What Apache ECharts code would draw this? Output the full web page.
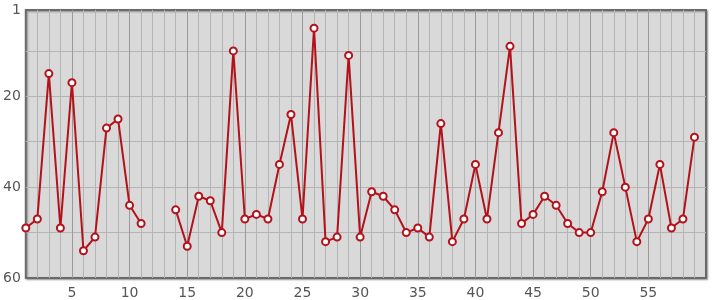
<!DOCTYPE html>
<html><head><meta charset="utf-8">
<script src="https://cdn.jsdelivr.net/npm/echarts@6/dist/echarts.min.js"></script>
<style>html,body{margin:0;padding:0;background:#fff}#c{width:715px;height:300px}</style>
</head><body><div id="c"></div>
<script>
const xValues = [1,2,3,4,5,6,7,8,9,10,11,12,13,14,15,16,17,18,19,20,21,22,23,24,25,26,27,28,29,30,31,32,33,34,35,36,37,38,39,40,41,42,43,44,45,46,47,48,49,50,51,52,53,54,55,56,57,58,59];
const yValues = [49,47,15,49,17,54,51,27,25,44,48,null,null,45,53,42,43,50,10,47,46,47,35,24,47,5,52,51,11,51,41,42,45,50,49,51,26,52,47,35,47,28,9,48,46,42,44,48,50,50,41,28,40,52,47,35,49,47,29];
const xTickLabels = [5,10,15,20,25,30,35,40,45,50,55];
const yTickLabels = [1,20,40,60];
const yGridValues = [10,20,30,40,50];
const xMinorGrid = [2,3,4,6,7,8,9,11,12,13,14,16,17,18,19,21,22,23,24,26,27,28,29,31,32,33,34,36,37,38,39,41,42,43,44,46,47,48,49,51,52,53,54,56,57,58,59];

const chart = echarts.init(document.getElementById('c'));
const lbl = {color:'#555', fontSize:14, fontFamily:'DejaVu Sans'};
chart.setOption({
  animation:false,
  grid:{left:25,right:9,top:10,bottom:20,show:true,backgroundColor:'#d9d9d9',borderColor:'#6a6a6a',borderWidth:2,
        shadowColor:'rgba(0,0,0,0.35)',shadowBlur:2,shadowOffsetX:1,shadowOffsetY:1},
  xAxis:[
    {type:'value',min:1,max:60,
     axisLine:{show:false},axisTick:{show:false,customValues:xTickLabels},
     axisLabel:Object.assign({customValues:xTickLabels,margin:8},lbl),
     splitLine:{show:true,lineStyle:{color:'#9a9a9a',width:1}}},
    {type:'value',min:1,max:60,position:'bottom',show:true,
     axisLine:{show:false},axisTick:{show:false,customValues:xMinorGrid},axisLabel:{show:false},
     splitLine:{show:true,lineStyle:{color:'#b4b4b4',width:1}}}
  ],
  yAxis:[
    {type:'value',min:1,max:60,inverse:true,
     axisLine:{show:false},axisTick:{show:false,customValues:yGridValues},
     axisLabel:Object.assign({customValues:yTickLabels,margin:5},lbl),
     splitLine:{show:true,lineStyle:{color:'#b4b4b4',width:1}}}
  ],
  series:[{
    type:'line',xAxisIndex:0,
    data:xValues.map((x,i)=>[x,yValues[i]]),
    connectNulls:false,
    symbol:'circle',symbolSize:7,showSymbol:true,
    lineStyle:{color:'#b3121b',width:2},
    itemStyle:{color:'#ffffff',borderColor:'#b3121b',borderWidth:2},
    z:5
  }]
});
</script></body></html>
